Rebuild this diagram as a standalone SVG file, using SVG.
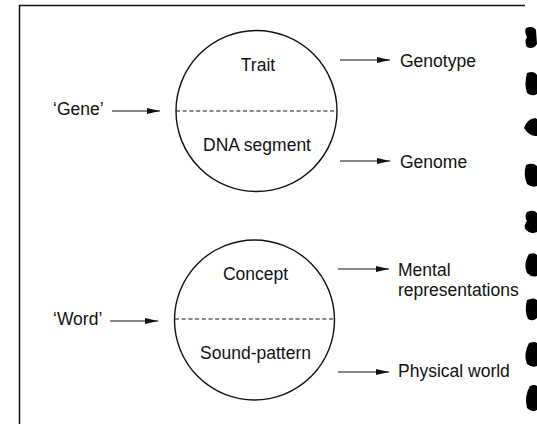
<svg xmlns="http://www.w3.org/2000/svg" width="537" height="424" viewBox="0 0 537 424">
<style>
  text { font-family: "Liberation Sans", Arial, sans-serif; font-size: 17.5px; fill: #111; }
  .mid { text-anchor: middle; }
  .circ { fill: none; stroke: #111; stroke-width: 1.4; }
  .dash { stroke: #111; stroke-width: 1.2; stroke-dasharray: 4 2.7; fill: none; }
  .arr { stroke: #111; stroke-width: 1.2; fill: none; marker-end: url(#ah); }
  .frame { stroke: #111; stroke-width: 1.5; fill: none; }
  .blob { fill: #000; }
</style>
<defs>
  <marker id="ah" viewBox="0 0 13 6" refX="13" refY="3" markerWidth="13" markerHeight="6" markerUnits="userSpaceOnUse" orient="auto">
    <path d="M0,0 L13,3 L0,6 Z" fill="#111"/>
  </marker>
</defs>
<rect width="537" height="424" fill="#fff"/>

<g id="frame">
  <path class="frame" d="M19.5,424 L19.5,5.5 L525,5.5"/>
</g>

<g id="binding-holes">
  <path class="blob" d="M526,28 Q533,25 536,30 L537,44 Q533,50 527,47 Q524,42 527,37 Q524,32 526,28 Z"/>
  <path class="blob" d="M527,73 Q534,70 537,75 L537,94 Q532,97 527,93 Q524,84 527,73 Z"/>
  <path class="blob" d="M524,128 Q527,119 535,118 L537,119 L537,136 Q530,137 524,128 Z"/>
  <path class="blob" d="M526,165 Q533,162 537,166 L537,186 Q532,188 527,184 Q523,175 526,165 Z"/>
  <path class="blob" d="M527,212 Q534,209 537,213 L537,232 Q531,235 526,230 Q523,226 527,221 Q524,216 527,212 Z"/>
  <path class="blob" d="M529,254 Q535,252 537,255 L537,276 Q532,278 527,273 Q523,264 529,254 Z"/>
  <path class="blob" d="M527,300 Q534,297 537,300 L537,318 Q533,322 528,319 Q524,311 527,300 Z"/>
  <path class="blob" d="M529,343 Q535,341 537,343 L537,366 Q532,368 527,364 Q523,354 529,343 Z"/>
  <path class="blob" d="M530,386 Q535,384 537,386 L537,410 Q532,413 527,408 Q524,396 530,386 Z"/>
</g>

<g id="gene-circle">
  <circle class="circ" cx="256.5" cy="111" r="80.5"/>
  <line class="dash" x1="176" y1="111" x2="337" y2="111"/>
  <text class="mid" x="258" y="71">Trait</text>
  <text class="mid" x="257" y="151">DNA segment</text>
</g>

<g id="word-circle">
  <circle class="circ" cx="254.5" cy="320" r="80"/>
  <line class="dash" x1="175" y1="319" x2="334" y2="319"/>
  <text class="mid" x="255.5" y="280">Concept</text>
  <text class="mid" x="255.5" y="359">Sound-pattern</text>
</g>

<g id="gene-label"><text x="53" y="115">‘Gene’</text></g>
<g id="word-label"><text x="53" y="325">‘Word’</text></g>
<g id="genotype"><text x="400" y="67">Genotype</text></g>
<g id="genome"><text x="400" y="168">Genome</text></g>
<g id="mental"><text x="398" y="276">Mental</text><text x="398" y="295.5">representations</text></g>
<g id="physical"><text x="398" y="377">Physical world</text></g>

<g id="connectors">
  <line class="arr" x1="112" y1="111" x2="160" y2="111"/>
  <line class="arr" x1="110" y1="321" x2="158" y2="321"/>
  <line class="arr" x1="340" y1="60" x2="390" y2="60"/>
  <line class="arr" x1="340" y1="161" x2="390" y2="161"/>
  <line class="arr" x1="338" y1="269" x2="389" y2="269"/>
  <line class="arr" x1="338" y1="372" x2="389" y2="372"/>
</g>
</svg>
